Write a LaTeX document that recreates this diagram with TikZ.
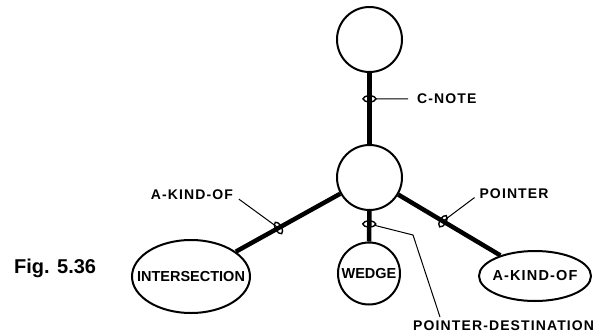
\documentclass[tikz,border=0pt]{standalone}
\usepackage{fontspec}
\setmainfont{Liberation Sans}
\newfontfamily\lblfont[LetterSpace=8]{Liberation Sans}
\usetikzlibrary{shapes.geometric}
\begin{document}
\begin{tikzpicture}[x=1pt,y=-1pt,
  circ/.style={circle,draw,line width=2pt,inner sep=0pt,minimum size=65pt},
  ell/.style={ellipse,draw,line width=2pt,inner sep=0pt},
  edgeline/.style={line width=4.5pt},
  lead/.style={line width=1pt},
  loopmark/.style={ellipse,draw,line width=1.4pt,minimum width=6pt,minimum height=13pt,inner sep=0pt,sloped},
  lbl/.style={font=\lblfont\bfseries\fontsize{14}{14}\selectfont,inner sep=0pt},
  ntxt/.style={font=\bfseries\fontsize{14.5}{14.5}\selectfont,inner sep=0pt}]
\useasboundingbox[fill=white] (0,0) rectangle (597,335);

% nodes
\node[circ] (top) at (369.5,39.5) {};
\node[circ] (mid) at (369.5,177.5) {};
\node[ell,minimum width=118pt,minimum height=73pt] (inter) at (191,276.5) {};
\node[ntxt] (intertxt) at (inter.center) {INTERSECTION};
\node[circ,minimum size=62pt] (wedge) at (369,273.5) {};
\node[ntxt] (wedgetxt) at (wedge.center) {WEDGE};
\node[ell,minimum width=112pt,minimum height=50pt] (ako) at (535,276) {};
\node[ntxt,font=\addfontfeatures{LetterSpace=8}\bfseries\fontsize{14.5}{14.5}\selectfont] (akotxt) at (ako.center) {A-KIND-OF};

% edges
\draw[edgeline] (top) -- (mid);
\draw[edgeline] (mid) -- (inter);
\draw[edgeline] (mid) -- (wedge);
\draw[edgeline] (mid) -- (ako);

% loop marks
\path (top.center) -- (mid.center) node[loopmark,pos=0.43] (cl) {};
\path (mid.center) -- (inter.center) node[loopmark,pos=0.51] (kl) {};
\path (mid.center) -- (ako.center) node[loopmark,pos=0.444] (pl) {};
\path (mid.center) -- (wedge.center) node[loopmark,pos=0.484] (wl) {};

% labels
\node[lbl,anchor=west] (cnote) at (417,99) {C-NOTE};
\node[lbl] (akl) at (192,195) {A-KIND-OF};
\node[lbl] (ptr) at (514,194) {POINTER};
\node[lbl,anchor=north west] (pdst) at (413,321) {POINTER-DESTINATION};
\node[font=\bfseries\fontsize{20}{20}\selectfont,anchor=west,inner sep=0pt] (fig) at (14,268.5) {Fig. 5.36};

% leaders
\coordinate (pdbend) at (413,235);
\coordinate (pdend) at (440,317);
\draw[lead,shorten <=6pt,shorten >=9pt] (cl.center) -- (cnote.west);
\draw[lead,shorten <=7pt,shorten >=1pt] (akl.east) -- (kl.center);
\draw[lead,shorten <=6pt,shorten >=1pt] (ptr.west) -- (pl.center);
\draw[lead,shorten <=5pt] (wl.center) -- (pdbend) -- (pdend);
\end{tikzpicture}
\end{document}
